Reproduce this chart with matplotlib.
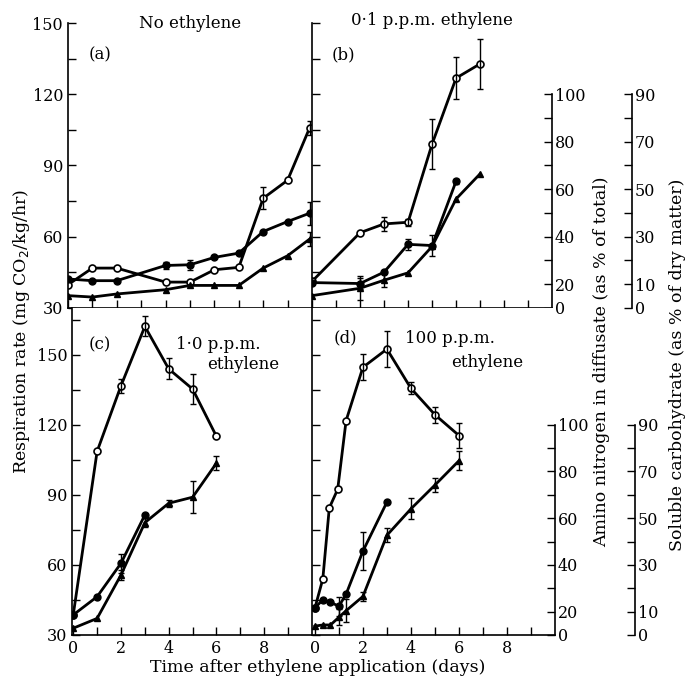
import matplotlib
matplotlib.use("Agg")
import matplotlib.pyplot as plt
import numpy as np

plt.rcParams["font.family"] = ["DejaVu Serif"]
plt.rcParams["font.size"] = 11.5

# (a) no ethylene
days_a = [0, 1, 2, 4, 5, 6, 7, 8, 9, 9.9]
resp_a = [39.8, 46.8, 46.8, 40.9, 40.9, 46.1, 47.1, 76.2, 83.8, 105.8]
resp_a_err = [0, 0, 0, 0, 0, 0, 0, 4.7, 0, 3.0]
amino_a = [22.2, 21.5, 21.5, 27.9, 28.2, 31.3, 33.1, 42.2, 46.4, 49.9]
amino_a_err = [0, 0, 0, 1.3, 2.0, 0, 0, 0, 0, 4.8]
carb_a = [5.2, 4.6, 5.9, 7.7, 9.5, 9.5, 9.5, 16.8, 22.0, 29.0]
carb_a_err = [0, 0, 0, 0, 0, 0, 0, 0, 0, 3.0]

# (b) 0.1 ppm
days_b = [0, 2, 3, 4, 5, 6, 7]
resp_b = [41.2, 61.7, 65.4, 66.1, 99.0, 126.8, 132.8]
resp_b_err = [0, 0, 3.0, 1.5, 10.5, 9.0, 10.5]
days_b_amino = [0, 2, 3, 4, 5, 6]
amino_b = [20.7, 20.3, 25.1, 36.8, 36.3, 63.4]
amino_b_err = [0, 2.5, 0, 2.4, 4.5, 1.0]
carb_b = [5.2, 8.3, 11.7, 14.8, 25.9, 45.9, 56.5]
carb_b_err = [0, 5.0, 3.0, 0, 0, 0, 0]

# (c) 1.0 ppm
days_c = [0, 1, 2, 3, 4, 5, 6]
resp_c = [38.6, 108.6, 136.7, 162.1, 143.9, 135.3, 115.0]
resp_c_err = [0, 0, 3.0, 4.3, 4.5, 6.4, 0]
days_c_amino = [0, 1, 2, 3]
amino_c = [18.6, 26.4, 40.7, 61.4]
amino_c_err = [0, 0, 4.0, 0]
carb_c = [2.9, 7.1, 25.7, 48.1, 56.4, 59.0, 73.6]
carb_c_err = [0, 0, 2.0, 2.0, 1.5, 6.8, 3.0]

# (d) 100 ppm
days_d = [0, 0.33, 0.6, 0.95, 1.3, 2, 3, 4, 5, 6]
resp_d = [41.5, 54.0, 84.4, 92.4, 121.8, 144.6, 152.4, 135.6, 124.3, 115.4]
resp_d_err = [0, 0, 0, 0, 0, 5.5, 7.7, 2.5, 3.5, 5.5]
days_d_amino = [0, 0.33, 0.65, 1.0, 1.3, 2, 3]
amino_d = [21.6, 25.1, 24.0, 22.3, 27.5, 45.9, 66.9]
amino_d_err = [0, 0, 0, 4.0, 0, 8.0, 0]
days_d_carb = [0, 0.33, 0.65, 1.0, 1.3, 2, 3, 4, 5, 6]
carb_d = [3.8, 4.3, 4.3, 7.6, 10.4, 16.5, 42.7, 54.0, 64.2, 74.6]
carb_d_err = [0, 0, 0, 3.5, 5.0, 2.0, 3.0, 4.5, 2.8, 4.0]


def series(ax, x, y, err, style):
    x = np.asarray(x, dtype=float)
    y = np.asarray(y, dtype=float)
    err = np.asarray(err, dtype=float)
    ax.plot(x, y, color="black", lw=2.0, **style)
    m = err > 0
    if m.any():
        ax.errorbar(x[m], y[m], yerr=err[m], fmt="none", ecolor="black",
                    elinewidth=1.0, capsize=2.5, capthick=1.0)


open_c = dict(marker="o", ms=5, mfc="white", mec="black", mew=1.2)
fill_c = dict(marker="o", ms=5, mfc="black", mec="black")
tri = dict(marker="^", ms=4.5, mfc="black", mec="black")

fig = plt.figure(figsize=(6.88, 6.87), dpi=100)
boxes = {
    "a": [0.0988, 0.5517, 0.3547, 0.4148],
    "b": [0.4535, 0.5517, 0.3490, 0.4148],
    "c": [0.1047, 0.0757, 0.3488, 0.4760],
    "d": [0.4535, 0.0757, 0.3532, 0.4760],
}


def make_panel(key, ylim, xlim, show_right):
    ax = fig.add_axes(boxes[key])
    ax.set_xlim(*xlim)
    ax.set_ylim(*ylim)
    for s in ("top", "right"):
        ax.spines[s].set_visible(False)
    ax.spines["left"].set_linewidth(1.2)
    ax.spines["bottom"].set_linewidth(1.2)
    ax.set_xticks(np.arange(0, 10, 1), minor=True)
    ax.set_xticks([0, 2, 4, 6, 8])
    ax.set_yticks([30, 60, 90, 120, 150])
    ax.set_yticks(np.arange(45, ylim[1], 30), minor=True)
    ax.tick_params(which="both", direction="in", length=6, width=1)
    if key in ("a", "b"):
        ax.tick_params(labelbottom=False)
    if key in ("b", "d"):
        ax.tick_params(labelleft=False)

    amino = ax.twinx()
    amino.set_ylim(ylim[0] - 20, ylim[1] - 20)
    carb = ax.twinx()
    carb.set_ylim(ylim[0] - 30, ylim[1] - 30)
    for t in (amino, carb):
        for s in ("top", "left", "bottom"):
            t.spines[s].set_visible(False)
    if show_right:
        amino.spines["right"].set_bounds(10, 100)
        amino.set_yticks([10, 20, 40, 60, 80, 100])
        amino.set_yticklabels(["0", "20", "40", "60", "80", "100"])
        amino.set_yticks([30, 50, 70, 90], minor=True)
        carb.spines["right"].set_position(("axes", 1 + 80 / (688 * boxes[key][2])))
        carb.spines["right"].set_bounds(0, 90)
        carb.set_yticks([0, 10, 30, 50, 70, 90])
        carb.set_yticks([20, 40, 60, 80], minor=True)
        for t in (amino, carb):
            t.spines["right"].set_linewidth(1.2)
            t.tick_params(which="both", direction="in", length=6, width=1, pad=2)
    else:
        amino.set_axis_off()
        carb.set_axis_off()
    return ax, amino, carb


ax_a, n_a, c_a = make_panel("a", (30, 150), (0, 10), False)
ax_b, n_b, c_b = make_panel("b", (30, 150), (0, 10), True)
ax_c, n_c, c_c = make_panel("c", (30, 170), (-0.05, 10), False)
ax_d, n_d, c_d = make_panel("d", (30, 170), (-0.12, 10), True)

series(ax_a, days_a, resp_a, resp_a_err, open_c)
series(n_a, days_a, amino_a, amino_a_err, fill_c)
series(c_a, days_a, carb_a, carb_a_err, tri)

series(ax_b, days_b, resp_b, resp_b_err, open_c)
series(n_b, days_b_amino, amino_b, amino_b_err, fill_c)
series(c_b, days_b, carb_b, carb_b_err, tri)

series(ax_c, days_c, resp_c, resp_c_err, open_c)
series(n_c, days_c_amino, amino_c, amino_c_err, fill_c)
series(c_c, days_c, carb_c, carb_c_err, tri)

series(ax_d, days_d, resp_d, resp_d_err, open_c)
series(n_d, days_d_amino, amino_d, amino_d_err, fill_c)
series(c_d, days_d_carb, carb_d, carb_d_err, tri)

fs = 12
ax_a.text(0.5, 1.0, "No ethylene", transform=ax_a.transAxes, ha="center", va="center", fontsize=fs)
ax_b.text(0.5, 1.01, "0·1 p.p.m. ethylene", transform=ax_b.transAxes, ha="center", va="center", fontsize=fs)
ax_a.text(0.13, 0.888, "(a)", transform=ax_a.transAxes, ha="center", va="center", fontsize=12)
ax_b.text(0.13, 0.888, "(b)", transform=ax_b.transAxes, ha="center", va="center", fontsize=12)
ax_c.text(0.117, 0.887, "(c)", transform=ax_c.transAxes, ha="center", va="center", fontsize=12)
ax_c.text(0.608, 0.887, "1·0 p.p.m.", transform=ax_c.transAxes, ha="center", va="center", fontsize=fs)
ax_c.text(0.713, 0.826, "ethylene", transform=ax_c.transAxes, ha="center", va="center", fontsize=fs)
ax_d.text(0.136, 0.908, "(d)", transform=ax_d.transAxes, ha="center", va="center", fontsize=12)
ax_d.text(0.568, 0.908, "100 p.p.m.", transform=ax_d.transAxes, ha="center", va="center", fontsize=fs)
ax_d.text(0.72, 0.832, "ethylene", transform=ax_d.transAxes, ha="center", va="center", fontsize=fs)

fig.text(22 / 688, 1 - 332 / 687, "Respiration rate (mg CO$_2$/kg/hr)", rotation=90,
         ha="center", va="center", fontsize=12.5)
fig.text(318 / 688, 1 - 668 / 687, "Time after ethylene application (days)",
         ha="center", va="center", fontsize=12.5)
fig.text(602 / 688, 1 - 362 / 687, "Amino nitrogen in diffusate (as % of total)", rotation=90,
         ha="center", va="center", fontsize=12.5)
fig.text(678 / 688, 1 - 365 / 687, "Soluble carbohydrate (as % of dry matter)", rotation=90,
         ha="center", va="center", fontsize=12.5)

fig.savefig("out.png", dpi=100)
